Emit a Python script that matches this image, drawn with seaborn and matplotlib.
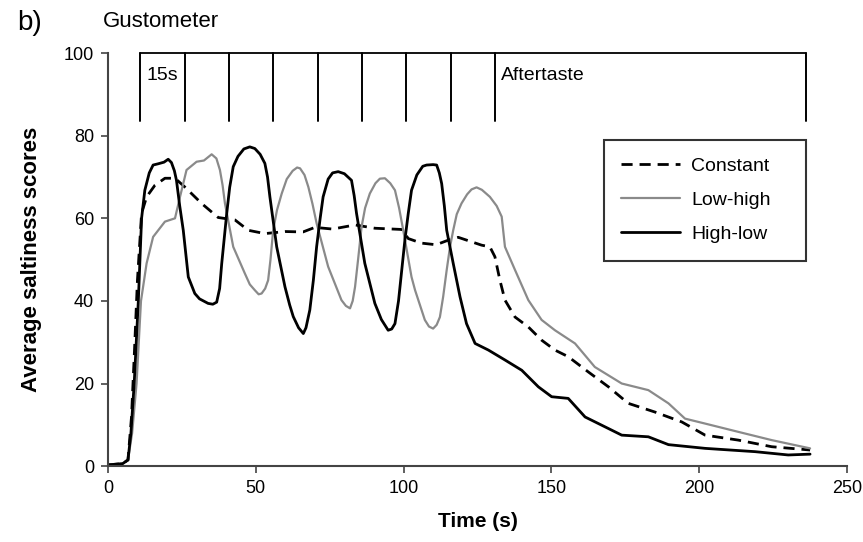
"""Gustometer saltiness time-intensity curves (panel b)"""
import numpy as np
import matplotlib
matplotlib.use("Agg")
import matplotlib.pyplot as plt
import seaborn as sns

# 읽어낸 곡선 값 (x: time s, y: score)
const_t = [0, 5, 6.8, 8, 9, 10, 11.4, 13.1, 15.9, 19.3, 22.7, 26, 31.7, 37.3, 43, 47.5, 53.1,
           60, 66, 70, 76, 83.6, 90.3, 99.4, 101.6, 106, 111, 115.1, 118.5, 126.4, 129.2,
           130.9, 132.6, 134.3, 137.7, 142.2, 146.7, 151.2, 155.7, 162.5, 169.3, 176, 185,
           194.1, 202, 213.2, 224.5, 237.5]
const_y = [0.3, 0.6, 1.5, 12, 28, 45, 61.2, 65.2, 68, 69.7, 69.7, 67.6, 63.6, 60.2, 59.6, 57.1, 56.3,
           56.8, 56.7, 57.8, 57.4, 58.4, 57.6, 57.3, 55.1, 54.0, 53.6, 54.7, 55.4, 53.5, 53.1,
           50.7, 45, 40.2, 36.1, 33.7, 30.5, 28.1, 26.5, 22.8, 19.2, 15.2, 13.1,
           10.7, 7.5, 6.3, 4.7, 3.9]

lowhigh_t = [0, 5, 6.8, 8.2, 9.7, 11.2, 13.1, 15.3, 19.3, 22.7, 24.4, 26.6, 30, 32.5, 35.1, 36.7,
             37.9, 38.8, 39.6, 42.4, 46.3, 48, 49.7, 51, 52, 53.2, 54.2, 55, 55.9, 57.2, 58.8,
             60.5, 62.5, 64, 65, 66.5, 67.8, 69.2, 70.6, 74.5, 79, 80.5, 81.9, 82.8, 83.6, 84.7,
             85.8, 87, 88.6, 90.5, 92, 93.7, 95.5, 97.1, 98.5, 99.9, 102.7, 103.9, 107.2, 108.6,
             110, 111.2, 112.3, 113.4, 114.6, 115.7, 116.8, 118, 119.6, 121.5, 123, 124.7, 126.5,
             129.2, 131.5, 133.2, 134.3, 137.7, 142.2, 146.7, 151.2, 158, 164.7, 173.8, 182.8,
             189.6, 195.2, 202, 213.2, 224.5, 237.5]
lowhigh_y = [0.3, 0.6, 1.5, 8, 20, 40, 49.1, 55.5, 59.2, 60, 65.2, 71.7, 73.7, 74, 75.5, 74.5,
             71.7, 68, 63.6, 53.1, 46.7, 44, 42.6, 41.6, 41.8, 43, 45, 50, 57.1, 62, 66,
             69.5, 71.5, 72.3, 72.1, 70.5, 67.6, 63.5, 58.8, 48.3, 40.2, 38.8, 38.2, 40, 43.4, 50.5,
             57.9, 62.5, 66, 68.5, 69.6, 69.7, 68.5, 66.8, 62.5, 57.1, 45.8, 42.6, 35.4, 33.8,
             33.3, 34.2, 36.1, 41, 47.5, 53, 57.1, 61, 63.6, 65.8, 67, 67.5, 66.9,
             65.2, 63, 60.4, 53.1, 47.5, 40.2, 35.4, 32.9, 29.7, 24, 20, 18.4,
             15.2, 11.5, 10.3, 8.3, 6.3, 4.3]

highlow_t = [0, 5, 6.8, 7.8, 8.9, 10.3, 11.4, 12.5, 14, 15.3, 17, 19, 20.4, 21.5, 22.5, 23.2,
             24.3, 25.5, 27.2, 29.4, 31, 33.9, 35.5, 36.8, 37.8, 38.5, 40.2, 41.2, 42.4, 44, 46,
             48, 49.7, 51.5, 53.1, 54, 54.8, 57.1, 59.9, 61.5, 62.7, 64.5, 66.1, 67, 68.3, 69.5,
             70.6, 71.8, 72.8, 74.5, 76, 77.9, 80, 82.4, 83.3, 84.1, 86.9, 90.3, 92.5, 94.8, 96,
             97.1, 98.3, 99.4, 100.5, 101.6, 102.7, 104.5, 106.5, 107.8, 110, 111.2, 112.1,
             112.9, 113.8, 114.6, 116.8, 119.1, 121.3, 124.2, 128.7, 134.3, 140, 145.6, 150.1,
             155.7, 161.4, 169.3, 173.8, 182.8, 189.6, 202, 218.9, 230.1, 237.5]
highlow_y = [0.3, 0.6, 1.5, 8, 20, 40, 60, 66.8, 71, 72.9, 73.2, 73.6, 74.3, 73.5, 71.5, 69.2,
             63, 57.1, 45.8, 41.8, 40.5, 39.4, 39.2, 39.7, 43, 49, 61.2, 67.5, 72.5, 75, 76.8,
             77.3, 76.9, 75.5, 73.3, 70, 65.2, 53.1, 43.4, 39, 36.2, 33.5, 32.1, 33.5, 37.8, 45,
             53.1, 60, 65.2, 69.5, 71, 71.3, 70.8, 69.2, 65.5, 61.2, 49.1, 39.4, 35.5, 32.9, 33.2,
             34.5, 40, 47.5, 55, 61.2, 66.8, 70.5, 72.6, 72.9, 73, 72.9, 71,
             68.4, 63, 57.1, 49.1, 41, 34.5, 29.7, 28.1, 25.7, 23.2, 19.2, 16.8,
             16.4, 11.9, 9.1, 7.5, 7.1, 5.2, 4.3, 3.5, 2.7, 2.9]

# 자극 구간 (15s 간격) + aftertaste 끝
bracket_t = [11, 26, 41, 56, 71, 86, 101, 116, 131, 236]
bracket_labels = ["15s", "Aftertaste"]

sns.set_theme(style="white")
plt.rcParams["font.family"] = ["Liberation Sans", "DejaVu Sans"]
plt.rcParams["text.color"] = "black"
plt.rcParams["axes.labelcolor"] = "black"
plt.rcParams["xtick.color"] = "black"
plt.rcParams["ytick.color"] = "black"

fig = plt.figure(figsize=(8.63, 5.42), dpi=100)
ax = fig.add_axes([0.125, 0.140, 0.8565, 0.762])

sns.lineplot(x=const_t, y=const_y, ax=ax, color="black", linewidth=2.0,
             linestyle=(0, (4, 2.5)), label="Constant")
sns.lineplot(x=lowhigh_t, y=lowhigh_y, ax=ax, color="#8a8a8a", linewidth=1.6,
             label="Low-high")
sns.lineplot(x=highlow_t, y=highlow_y, ax=ax, color="black", linewidth=2.0,
             label="High-low")

# 상단 구간 표시
ax.plot([bracket_t[0], bracket_t[-1]], [100, 100], color="black", linewidth=1.3,
        clip_on=False)
for bt in bracket_t:
    ax.plot([bt, bt], [100, 83.5], color="black", linewidth=1.4, clip_on=False)
ax.text(bracket_t[0] + 2, 94.5, bracket_labels[0], fontsize=14, va="center")
ax.text(bracket_t[-2] + 2, 94.5, bracket_labels[1], fontsize=14, va="center")

ax.set_xlim(0, 250)
ax.set_ylim(0, 100)
ax.set_xticks(np.arange(0, 251, 50))
ax.set_yticks(np.arange(0, 101, 20))
ax.tick_params(axis="both", labelsize=13, length=5, width=1.2, direction="out",
               color="#444444", bottom=True, left=True, pad=5)
for s in ["top", "right"]:
    ax.spines[s].set_visible(False)
for s in ["left", "bottom"]:
    ax.spines[s].set_color("#444444")
    ax.spines[s].set_linewidth(1.5)
ax.set_xlabel("Time (s)", fontsize=15, fontweight="bold", labelpad=11)
ax.set_ylabel("Average saltiness scores", fontsize=16, fontweight="bold", labelpad=16)

leg = ax.legend(loc="upper left", bbox_to_anchor=(167.8 / 250, 0.47, 68.2 / 250, 0.32),
                mode="expand", fontsize=14, frameon=True, fancybox=False,
                edgecolor="black", handlelength=3.0, handletextpad=0.6,
                labelspacing=0.85, borderpad=0.9, borderaxespad=0)
leg.get_frame().set_linewidth(1.5)

fig.text(0.02, 0.957, "b)", fontsize=20, va="center")
fig.text(0.119, 0.96, "Gustometer", fontsize=16, va="center")

fig.savefig("out.png", dpi=100)
